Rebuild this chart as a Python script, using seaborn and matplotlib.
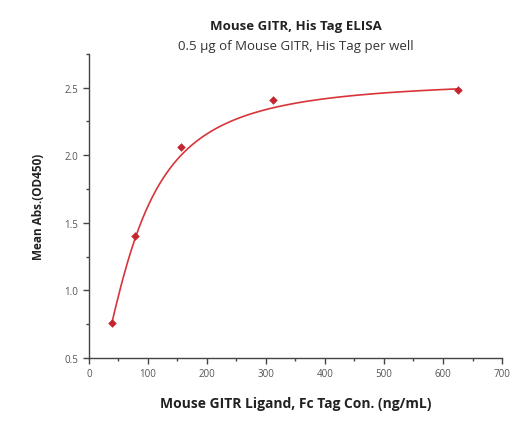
import numpy as np
import pandas as pd
import seaborn as sns
from matplotlib import pyplot as plt
from matplotlib.ticker import MultipleLocator

# data
conc = [39.06, 78.13, 156.25, 312.5, 625.0]
od450 = [0.76, 1.40, 2.06, 2.41, 2.48]

# 4PL fit parameters (bottom, top, ec50, hill)
fit_bottom, fit_top, fit_c, fit_b = 0.2, 2.56, 78.0, 1.68

sns.set_style('ticks')
plt.rcParams['font.family'] = ['Open Sans', 'DejaVu Sans']

df = pd.DataFrame({'conc': conc, 'od': od450})
xs = np.linspace(min(conc), max(conc), 300)
df_fit = pd.DataFrame({'conc': xs,
                       'od': fit_top + (fit_bottom - fit_top) / (1 + (xs / fit_c) ** fit_b)})

fig = plt.figure(figsize=(5.17, 4.35), dpi=100)
ax = fig.add_axes([0.172, 0.175, 0.799, 0.699])

sns.lineplot(data=df_fit, x='conc', y='od', color='#d8343a', linewidth=1.2, ax=ax)
sns.scatterplot(data=df, x='conc', y='od', color='#c42530', marker='D', s=16,
                edgecolor='#c42530', zorder=3, ax=ax)

ax.set_xlim(0, 700)
ax.set_ylim(0.5, 2.75)
ax.xaxis.set_major_locator(MultipleLocator(100))
ax.xaxis.set_minor_locator(MultipleLocator(50))
ax.yaxis.set_major_locator(MultipleLocator(0.5))
ax.yaxis.set_minor_locator(MultipleLocator(0.25))
ax.set_yticks([0.5, 1.0, 1.5, 2.0, 2.5])
ax.set_yticklabels(['0.5', '1.0', '1.5', '2.0', '2.5'])

sns.despine(ax=ax)
for sp in ['left', 'bottom']:
    ax.spines[sp].set_color('#444444')
    ax.spines[sp].set_linewidth(1.0)
ax.tick_params(which='major', length=4, width=1, color='#444444', labelsize=7, labelcolor='#555555')
ax.tick_params(which='minor', length=2.5, width=1, color='#444444')

ax.set_xlabel('Mouse GITR Ligand, Fc Tag Con. (ng/mL)', fontsize=10, fontweight='bold', color='#222222', labelpad=12)
ax.set_ylabel('Mean Abs.(OD450)', fontsize=8.5, fontweight='bold', color='#222222', labelpad=14)

fig.text(0.572, 0.93, 'Mouse GITR, His Tag ELISA', ha='center', fontsize=9.5, fontweight='bold', color='#222222')
fig.text(0.572, 0.885, '0.5 \u03bcg of Mouse GITR, His Tag per well', ha='center', fontsize=9.5, color='#333333')

fig.savefig('out.png', dpi=100)
